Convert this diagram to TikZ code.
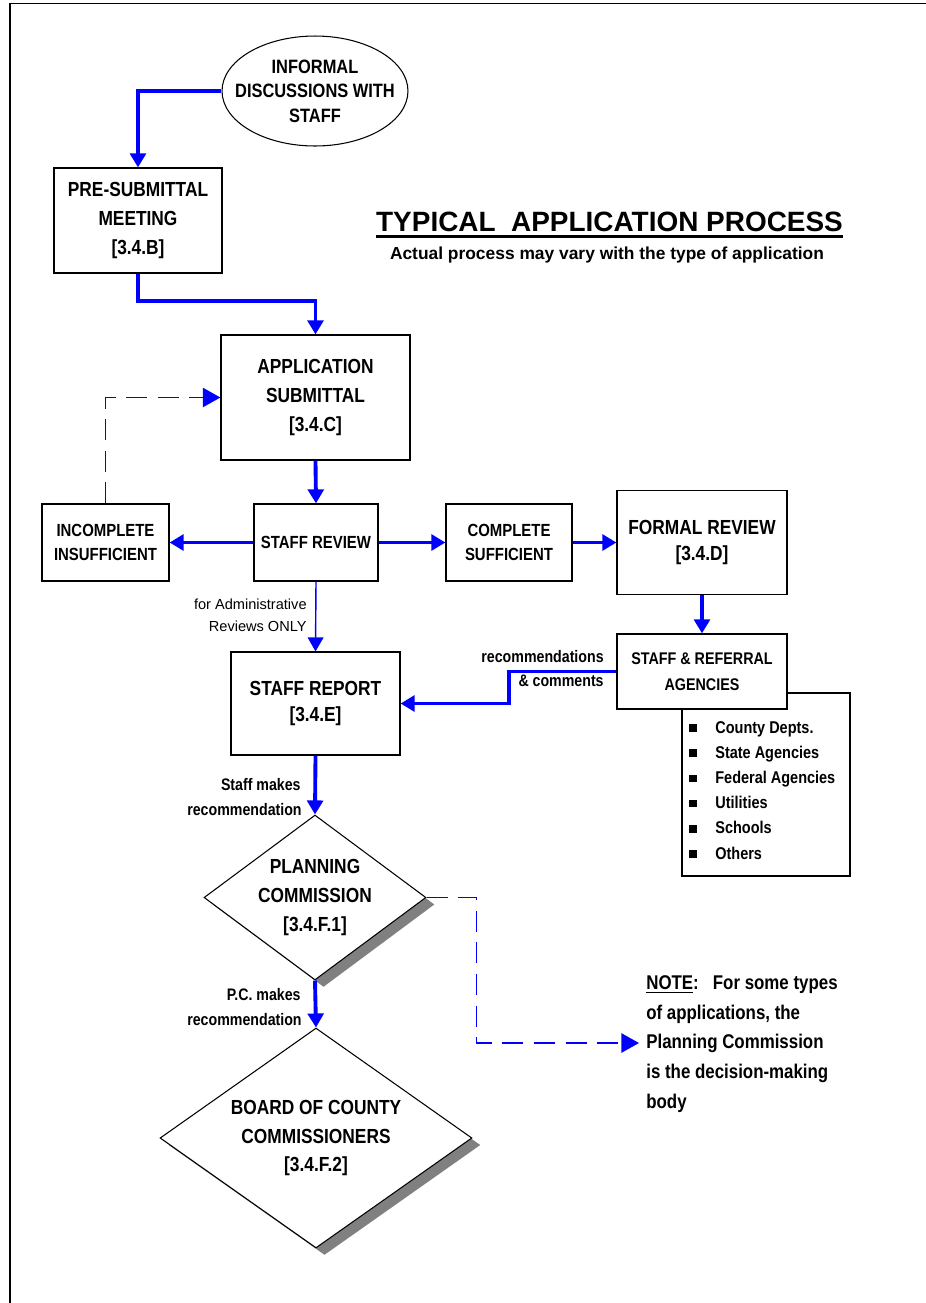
\documentclass[tikz,border=0pt]{standalone}
\usepackage{fontspec}
\setmainfont{Liberation Sans}
\newfontfamily\narrowsf{Liberation Sans}[FakeStretch=0.85]
\usepackage{tikz}
\usetikzlibrary{positioning, arrows.meta, shapes.geometric, shadows}

\begin{document}
\begin{tikzpicture}[x=0.02cm, y=-0.02cm,
    box/.style={draw, line width=0.7pt, fill=white, align=center, inner sep=0pt},
    bigtxt/.style={font=\narrowsf\bfseries\fontsize{11.6}{16.4}\selectfont},
    smalltxt/.style={font=\narrowsf\bfseries\fontsize{10}{13.6}\selectfont},
    lbl/.style={font=\narrowsf\bfseries\fontsize{9.5}{12}\selectfont, inner sep=0pt},
    thinlbl/.style={font=\fontsize{8.3}{10}\selectfont, inner sep=0pt},
    flow/.style={draw=blue, line width=2.2pt, -{Triangle[width=9pt,length=8pt]}},
    thinflow/.style={draw=blue, line width=0.8pt, -{Triangle[width=9pt,length=8pt]}},
    dashflow/.style={draw=blue, line width=0.8pt, dash pattern=on 12pt off 6pt, -{Triangle[width=11pt,length=10pt]}},
    decision/.style={diamond, draw, line width=0.6pt, fill=white, align=center, inner sep=0pt,
        drop shadow={shadow xshift=0.17cm, shadow yshift=-0.14cm, fill=black!50, opacity=1}},
]
    \useasboundingbox (0,0) rectangle (926,1303);
    % page frame
    \draw[line width=0.9pt] (10,1303) -- (10,3.5) -- (926,3.5);

    % title
    \node[font=\bfseries\fontsize{15.9}{18}\selectfont, inner sep=0pt, anchor=base] (title) at (609.5,231) {TYPICAL\ \ APPLICATION PROCESS};
    \draw[line width=1.8pt] ([yshift=-3.2pt]title.base west) -- ([yshift=-3.2pt]title.base east);
    \node[font=\bfseries\fontsize{9.9}{12}\selectfont, inner sep=0pt, anchor=base] (subtitle) at (607,259) {Actual process may vary with the type of application};

    % start
    \node[ellipse, draw, line width=0.6pt, minimum width=3.72cm, minimum height=2.2cm, inner sep=0pt] (informal) at (315,91) {};
    \node[align=center, inner sep=0pt, font=\narrowsf\bfseries\fontsize{11}{13.9}\selectfont] (informaltxt) at (informal.center) {INFORMAL\\DISCUSSIONS WITH\\STAFF};

    % boxes
    \node[box, bigtxt, minimum width=3.36cm, minimum height=2.1cm, font=\narrowsf\bfseries\fontsize{11.6}{16.7}\selectfont] (presub) at (138,220.5) {PRE-SUBMITTAL\\MEETING\\{[3.4.B]}};
    \node[box, bigtxt, minimum width=3.78cm, minimum height=2.5cm] (application) at (315.5,397.5) {APPLICATION\\SUBMITTAL\\{[3.4.C]}};
    \node[box, smalltxt, minimum width=2.48cm, minimum height=1.54cm] (staffrev) at (316,542.5) {STAFF REVIEW};
    \node[box, smalltxt, minimum width=2.54cm, minimum height=1.54cm] (incomplete) at (105.5,542.5) {INCOMPLETE\\INSUFFICIENT};
    \node[box, smalltxt, minimum width=2.52cm, minimum height=1.54cm] (complete) at (509,542.5) {COMPLETE\\SUFFICIENT};
    \node[box, bigtxt, minimum width=3.4cm, minimum height=2.08cm, font=\narrowsf\bfseries\fontsize{11.6}{15.3}\selectfont] (formal) at (702,542.5) {FORMAL REVIEW\\{[3.4.D]}};

    % agencies list behind the referral box
    \node[box, minimum width=3.36cm, minimum height=3.66cm] (agencies) at (766,784.5) {};
    \foreach \agency [count=\i from 0] in {County Depts., State Agencies, Federal Agencies, Utilities, Schools, Others} {
        \node[fill=black, minimum size=0.15cm, inner sep=0pt] (bullet\i) at (693,728+25.2*\i) {};
        \node[lbl, font=\narrowsf\bfseries\fontsize{9.7}{12}\selectfont, anchor=base west] (agency\i) at (715,733+25.2*\i) {\agency};
    }
    \node[box, smalltxt, minimum width=3.4cm, minimum height=1.5cm, font=\narrowsf\bfseries\fontsize{9.6}{14.7}\selectfont] (referral) at (702,671.5) {STAFF \& REFERRAL\\AGENCIES};

    \node[box, bigtxt, minimum width=3.38cm, minimum height=2.06cm, font=\narrowsf\bfseries\fontsize{11.6}{15.3}\selectfont] (report) at (315.5,703.5) {STAFF REPORT\\{[3.4.E]}};

    % decisions
    \node[decision, bigtxt, minimum width=4.44cm, minimum height=3.3cm, aspect=1.345] (planning) at (315,897.5) {PLANNING\\COMMISSION\\{[3.4.F.1]}};
    \node[decision, bigtxt, minimum width=6.24cm, minimum height=4.4cm, aspect=1.418] (board) at (316,1138) {BOARD OF COUNTY\\COMMISSIONERS\\{[3.4.F.2]}};

    % note
    \node[anchor=north west, align=left, inner sep=0pt, font=\narrowsf\bfseries\fontsize{11.3}{17}\selectfont] (note) at (646,975) {\underline{NOTE}:\ \ \ For some types\\of applications, the\\Planning Commission\\is the decision-making\\body};
    \coordinate (notetip) at (639,1043);

    % connectors
    \draw[flow] (informal.west) -| (presub.north);
    \draw[flow] (presub.south) -- ++(0,27) -| (application.north);
    \draw[dashflow] (incomplete.north) |- (application.west);
    \draw[flow] (application.south) -- (staffrev.north);
    \draw[flow] (staffrev.west) -- (incomplete.east);
    \draw[flow] (staffrev.east) -- (complete.west);
    \draw[flow] (complete.east) -- (formal.west |- complete.east);
    \draw[flow] (formal.south) -- (referral.north);
    \draw[flow] (referral.west) -- ++(-107,0) |- (report.east);
    \draw[thinflow] (staffrev.south) -- (report.north);
    \draw[flow] (report.south) -- (planning.north);
    \draw[flow] (planning.south) -- (board.north);
    \draw[dashflow] (planning.east) -- ++(50,0) |- (notetip);

    % connector labels
    \node[lbl, anchor=base east] (recA) at (604,662) {recommendations};
    \node[lbl, anchor=base east] (recB) at (604,686) {\& comments};
    \node[thinlbl, anchor=base east] (adminA) at (307,609) {for Administrative};
    \node[thinlbl, anchor=base east] (adminB) at (307,631) {Reviews ONLY};
    \node[lbl, anchor=base east] (staffA) at (301,790) {Staff makes};
    \node[lbl, anchor=base east] (staffB) at (302,815) {recommendation};
    \node[lbl, anchor=base east] (pcA) at (301,1000) {P.C. makes};
    \node[lbl, anchor=base east] (pcB) at (302,1025) {recommendation};
\end{tikzpicture}
\end{document}
